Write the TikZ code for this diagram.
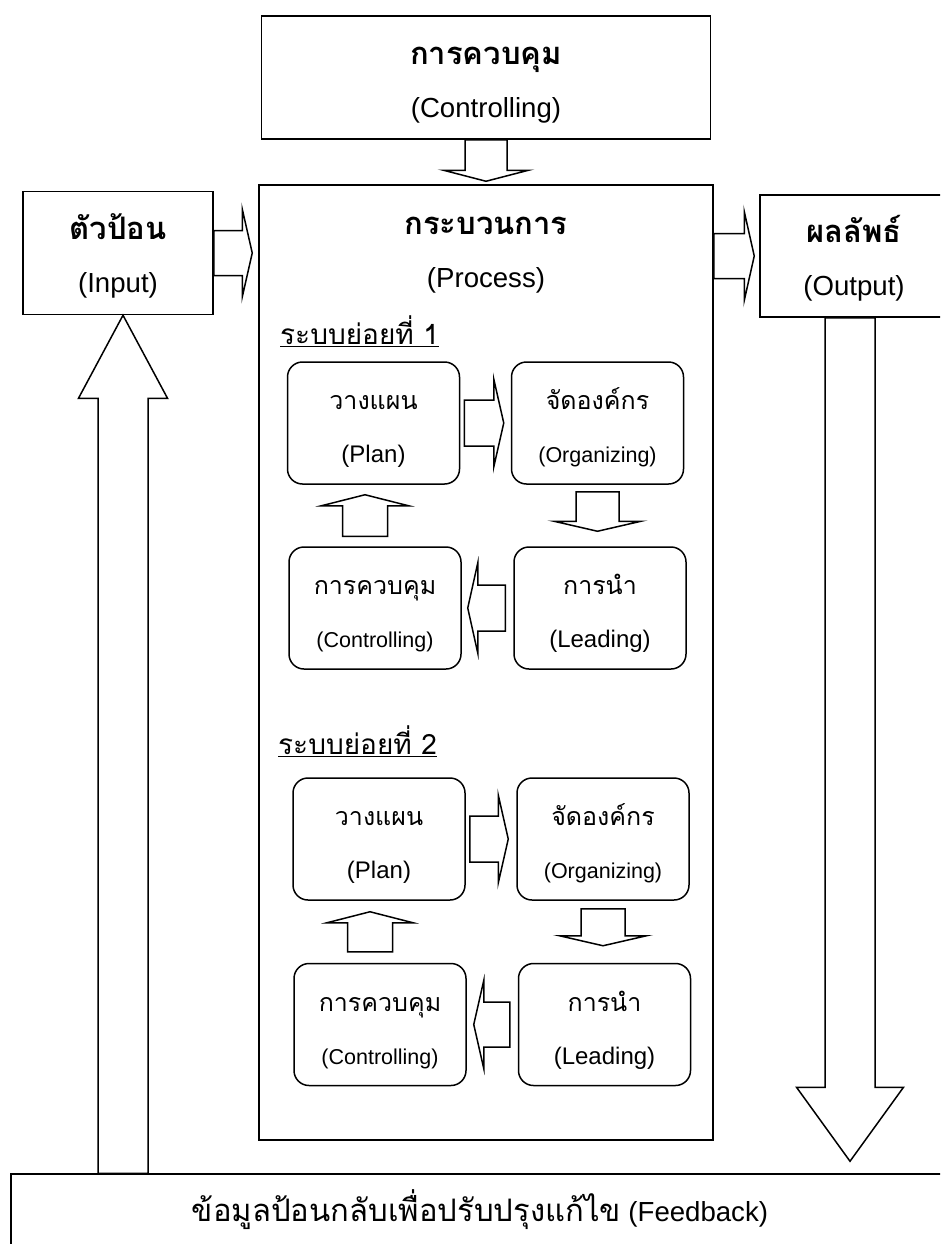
\documentclass[tikz,border=0pt]{standalone}
\usepackage{fontspec}
\setmainfont{Liberation Sans}
\newfontfamily\thaifont[Script=Thai]{Loma}
\usepackage{tikz}
\usetikzlibrary{positioning,calc}

\newcommand{\thbig}[1]{{\thaifont\bfseries\fontsize{31}{53}\selectfont\rule{0pt}{34.6pt}#1}}
\newcommand{\thsub}[1]{{\thaifont\fontsize{25}{53}\selectfont\rule{0pt}{34pt}#1}}
\newcommand{\thfb}[1]{{\thaifont\fontsize{31}{53}\selectfont #1}}
\newcommand{\lowstrut}{\rule[-8pt]{0pt}{0pt}}

% block arrow: from, to, gap at start, gap at end, half shaft, half head, head length
\newcommand{\fatarrow}[7]{%
  \coordinate (arrA) at ($(#1)!#3!(#2)$);
  \coordinate (arrB) at ($(#2)!#4!(#1)$);
  \draw[blockarrow] ($(arrA)!#5!90:(arrB)$) -- ($(arrB)!#7!(arrA)!#5!-90:(arrA)$)
    -- ($(arrB)!#7!(arrA)!#6!-90:(arrA)$) -- (arrB) -- ($(arrB)!#7!(arrA)!#6!90:(arrA)$)
    -- ($(arrB)!#7!(arrA)!#5!90:(arrA)$) -- ($(arrA)!#5!-90:(arrB)$) -- cycle;
}

\begin{document}
\begin{tikzpicture}[
    x=1pt, y=-1pt,
    mainbox/.style={draw, line width=1.5pt, align=center, inner sep=0pt,
                    font=\fontsize{27.6}{53}\selectfont},
    subbox/.style={draw, line width=1.5pt, rounded corners=15pt, align=center, inner sep=0pt,
                   minimum width=172pt, minimum height=122pt,
                   font=\fontsize{21.5}{53}\selectfont},
    bigfont/.style={font=\fontsize{24}{53}\selectfont},
    groupname/.style={anchor=west, inner sep=0pt, font=\thaifont\fontsize{28}{30}\selectfont},
    blockarrow/.style={draw, line width=1.5pt, fill=white, line join=miter}
  ]
  \useasboundingbox (0,0) rectangle (940,1244);
  \clip (0,0) rectangle (940,1244);

  % ===== MAIN BOXES =====
  \node[mainbox, minimum width=449pt, minimum height=123pt] (ctl) at (486,77.5) {\thbig{การควบคุม}\\(Controlling)\lowstrut};
  \node[mainbox, minimum width=190pt, minimum height=123pt] (inp) at (118,253) {\thbig{ตัวป้อน}\\(Input)\lowstrut};
  \node[mainbox, minimum width=454pt, minimum height=955pt] (proc) at (486,662.5) {};
  \node[align=center, inner sep=0pt, font=\fontsize{27.6}{53}\selectfont] (proctitle) at (486,247.5) {\thbig{กระบวนการ}\\(Process)\lowstrut};
  \node[mainbox, minimum width=188pt, minimum height=122pt] (outp) at (854,256) {\thbig{ผลลัพธ์}\\(Output)\lowstrut};
  \node[mainbox, minimum width=938pt, minimum height=72pt] (feed) at (480,1210) {\thfb{ข้อมูลป้อนกลับเพื่อปรับปรุงแก้ไข} (Feedback)};

  % ===== SUBSYSTEM 1 =====
  \node[groupname] (sys1) at (280,331) {\underline{ระบบย่อยที่ 1}};
  \node[subbox, bigfont] (P1) at (373.5,423) {\thsub{วางแผน}\\(Plan)\lowstrut};
  \node[subbox] (O1) at (597.5,423) {\thsub{จัดองค์กร}\\(Organizing)\lowstrut};
  \node[subbox] (C1) at (375,608) {\thsub{การควบคุม}\\(Controlling)\lowstrut};
  \node[subbox, bigfont] (L1) at (600,608) {\thsub{การนำ}\\(Leading)\lowstrut};

  % ===== SUBSYSTEM 2 =====
  \node[groupname] (sys2) at (278,741) {\underline{ระบบย่อยที่ 2}};
  \node[subbox, bigfont] (P2) at (379,839) {\thsub{วางแผน}\\(Plan)\lowstrut};
  \node[subbox] (O2) at (603,839) {\thsub{จัดองค์กร}\\(Organizing)\lowstrut};
  \node[subbox] (C2) at (380,1024.5) {\thsub{การควบคุม}\\(Controlling)\lowstrut};
  \node[subbox, bigfont] (L2) at (604.5,1024.5) {\thsub{การนำ}\\(Leading)\lowstrut};

  % ===== MAIN ARROWS =====
  \fatarrow{ctl.south}{proc.north}{0pt}{3pt}{21pt}{42.5pt}{11pt}
  \fatarrow{inp.east}{inp.east -| proc.west}{0pt}{6pt}{22.5pt}{44pt}{10pt}
  \fatarrow{outp.west -| proc.east}{outp.west}{0pt}{5pt}{22.5pt}{44.5pt}{10pt}
  \coordinate (dnout) at ($(outp.south)+(-4,0)$);
  \fatarrow{dnout}{dnout |- feed.north}{0pt}{12pt}{25pt}{53.5pt}{74pt}
  \coordinate (upin) at ($(inp.south)+(5,0)$);
  \fatarrow{upin |- feed.north}{upin}{0pt}{0pt}{25pt}{44.5pt}{83pt}

  % ===== CYCLE ARROWS 1 =====
  \fatarrow{P1.east}{O1.west}{4pt}{7pt}{23pt}{44pt}{10pt}
  \fatarrow{O1.south}{O1.south |- L1.north}{7pt}{15pt}{21.5pt}{43.5pt}{10pt}
  \fatarrow{L1.west}{L1.west -| C1.east}{8pt}{6pt}{23pt}{45pt}{10pt}
  \coordinate (up1) at ($(C1.north)+(-10,0)$);
  \fatarrow{up1}{up1 |- P1.south}{10pt}{10pt}{22.5pt}{43.5pt}{11pt}

  % ===== CYCLE ARROWS 2 =====
  \fatarrow{P2.east}{O2.west}{4pt}{8pt}{23pt}{44pt}{10pt}
  \fatarrow{O2.south}{O2.south |- L2.north}{8pt}{17pt}{22pt}{43.5pt}{10pt}
  \fatarrow{L2.west}{L2.west -| C2.east}{8pt}{7pt}{22.5pt}{44pt}{10pt}
  \coordinate (up2) at ($(C2.north)+(-10,0)$);
  \fatarrow{up2}{up2 |- P2.south}{11pt}{11pt}{22.5pt}{43pt}{11pt}
\end{tikzpicture}
\end{document}
